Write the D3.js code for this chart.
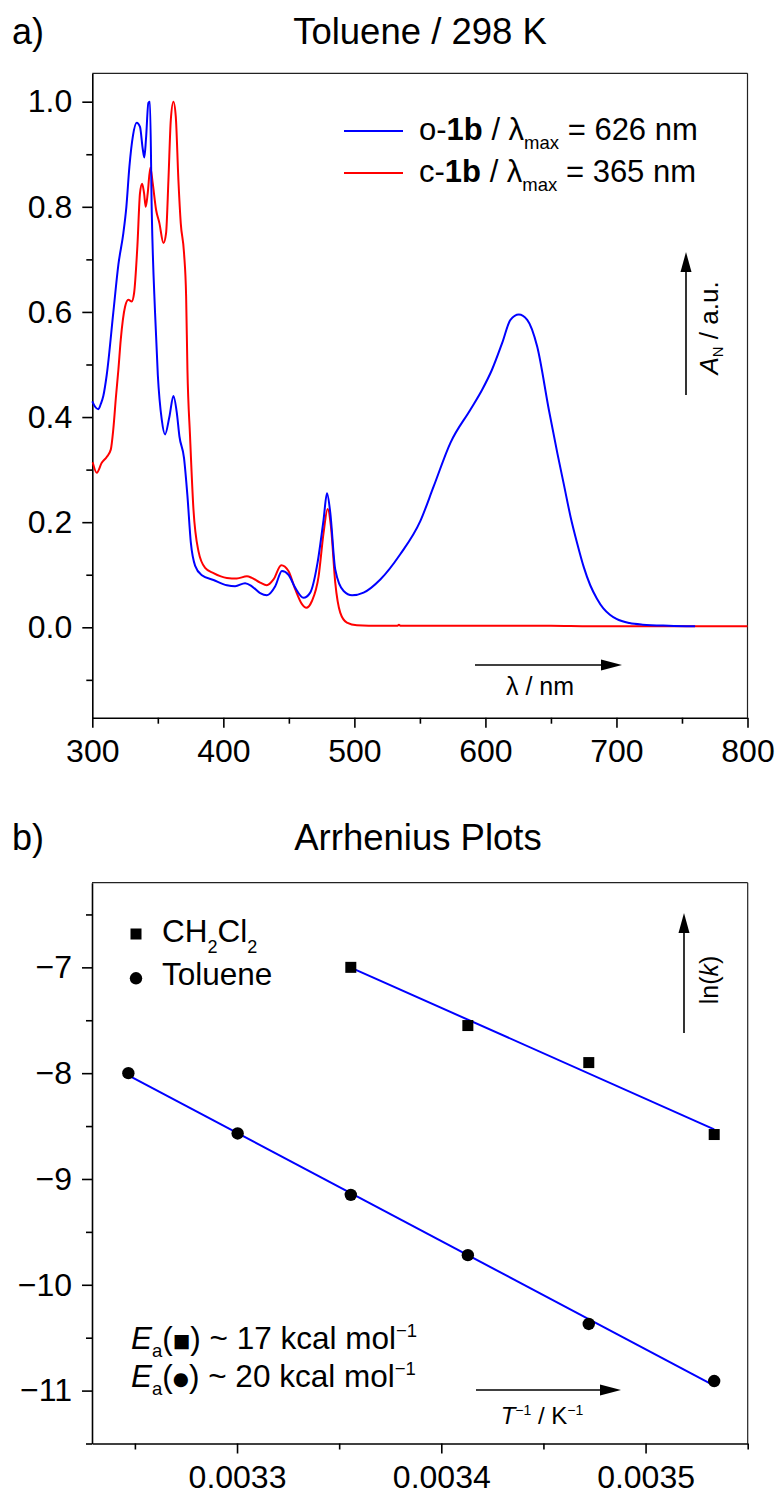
<!DOCTYPE html>
<html>
<head>
<meta charset="utf-8">
<script src="https://cdn.jsdelivr.net/npm/d3@7"></script>
<style>
  body { margin: 0; background: #fff; }
  text { font-family: "Liberation Sans", Arial, sans-serif; fill: #000; }
</style>
</head>
<body>
<script>
// a) absorption spectra, toluene, 298 K
const wavelengthO = [300, 302, 304.6, 306.5, 308.4, 311, 316, 319.9, 323.7, 326, 328.3, 331, 333.9, 336.4, 338.5, 339.7, 341, 342.8, 344, 345.4, 347.9, 350, 353, 355.5, 358.8, 361.9, 364.5, 366.5, 370, 372.6, 375.2, 378.5, 383.6, 392.5, 402.7, 409, 416.6, 421.8, 428.1, 433.2, 439.6, 444.7, 449.7, 454.9, 461.2, 466.3, 471.9, 476.5, 479.1, 481.6, 485.4, 491.8, 498.2, 507, 519.8, 535, 550.3, 560.5, 573.3, 588.5, 597.5, 605, 612.8, 619.1, 625.5, 631.9, 639.5, 648.4, 655, 660, 665, 670, 675, 680, 685, 690, 695, 700, 710, 720, 740, 760];
const absO = [0.43, 0.42, 0.415, 0.425, 0.44, 0.48, 0.598, 0.69, 0.75, 0.80, 0.876, 0.935, 0.96, 0.952, 0.91, 0.894, 0.93, 0.998, 1.0, 0.788, 0.598, 0.48, 0.395, 0.367, 0.40, 0.44, 0.408, 0.363, 0.322, 0.25, 0.161, 0.117, 0.099, 0.09, 0.08, 0.078, 0.084, 0.078, 0.065, 0.061, 0.078, 0.107, 0.10, 0.075, 0.056, 0.066, 0.123, 0.205, 0.255, 0.218, 0.11, 0.069, 0.061, 0.066, 0.091, 0.139, 0.202, 0.268, 0.351, 0.414, 0.452, 0.49, 0.541, 0.585, 0.595, 0.585, 0.534, 0.414, 0.33, 0.27, 0.21, 0.16, 0.115, 0.08, 0.055, 0.036, 0.024, 0.016, 0.008, 0.005, 0.003, 0.002];
const wavelengthC = [300.3, 303.4, 307.2, 311, 314.1, 316, 318.1, 319.9, 321.7, 325, 327.5, 330.1, 331.9, 334.4, 336.4, 338, 339.5, 340.8, 342.3, 344.3, 346.1, 348.7, 351.2, 354.3, 356.3, 358.1, 359.9, 361.9, 363.7, 365.7, 367.5, 370, 371.6, 372.6, 374.6, 377.2, 381, 386.1, 392.5, 402.7, 410.3, 418, 421.8, 428.1, 433.2, 438.3, 444.2, 449.7, 454.9, 460, 463.3, 467.6, 472.7, 476.5, 479.6, 482.1, 485.4, 489.2, 494.3, 501.9, 520, 533, 534, 535, 600, 650, 680, 700, 750, 800];
const absC = [0.314, 0.294, 0.313, 0.324, 0.338, 0.376, 0.44, 0.49, 0.547, 0.61, 0.623, 0.62, 0.636, 0.725, 0.826, 0.844, 0.826, 0.80, 0.826, 0.875, 0.845, 0.794, 0.769, 0.731, 0.75, 0.851, 0.965, 1.0, 0.972, 0.851, 0.769, 0.712, 0.63, 0.49, 0.363, 0.224, 0.145, 0.113, 0.103, 0.094, 0.093, 0.097, 0.094, 0.085, 0.08, 0.091, 0.118, 0.107, 0.072, 0.044, 0.037, 0.05, 0.097, 0.18, 0.225, 0.192, 0.085, 0.028, 0.009, 0.004, 0.003, 0.003, 0.005, 0.003, 0.003, 0.003, 0.002, 0.002, 0.002, 0.002];
const wlTicks = [300, 400, 500, 600, 700, 800];
const wlMinor = [350, 450, 550, 650, 750];
const absTicks = [0, 0.2, 0.4, 0.6, 0.8, 1.0];
const absMinor = [-0.1, 0.1, 0.3, 0.5, 0.7, 0.9];

// b) Arrhenius plots
const invTDcm = [0.0033557, 0.0034130, 0.0034722, 0.0035336];
const lnkDcm = [-7.00, -7.55, -7.90, -8.58];
const invTTol = [0.0032468, 0.0033003, 0.0033557, 0.0034130, 0.0034722, 0.0035336];
const lnkTol = [-8.00, -8.57, -9.15, -9.72, -10.37, -10.91];
const invTTicks = [0.0033, 0.0034, 0.0035];
const invTMinor = [0.00325, 0.00335, 0.00345, 0.00355];
const lnkTicks = [-7, -8, -9, -10, -11];
const lnkMinor = [-6.5, -7.5, -8.5, -9.5, -10.5, -11.5];

const svg = d3.select("body").append("svg").attr("width", 779).attr("height", 1497);

function frame(x, y, xMajor, xMinor, yMajor, yMinor, xFmt, yFmt) {
  const g = svg.append("g");
  const [x0, x1] = x.range();
  const [y0, y1] = y.range();
  g.append("line").attr("x1", x0).attr("x2", x1).attr("y1", y1).attr("y2", y1)
    .attr("stroke", "#222").attr("stroke-width", 1.2);
  g.append("line").attr("x1", x1).attr("x2", x1).attr("y1", y0).attr("y2", y1)
    .attr("stroke", "#222").attr("stroke-width", 1.2);
  const axes = [
    [d3.axisBottom(x).tickValues(xMinor).tickFormat("").tickSize(6), `translate(0,${y0})`, false],
    [d3.axisLeft(y).tickValues(yMinor).tickFormat("").tickSize(6), `translate(${x0},0)`, false],
    [d3.axisBottom(x).tickValues(xMajor).tickFormat(xFmt).tickSize(10).tickPadding(12), `translate(0,${y0})`, true],
    [d3.axisLeft(y).tickValues(yMajor).tickFormat(yFmt).tickSize(10).tickPadding(10), `translate(${x0},0)`, true]
  ];
  axes.forEach(([ax, tr, keep]) => {
    const a = g.append("g").attr("transform", tr)
      .call(ax.tickSizeOuter(0))
      .attr("font-size", 32).attr("font-family", null);
    if (!keep) a.select(".domain").remove();
    a.selectAll("path, line").attr("stroke", "#000").attr("stroke-width", 1.6);
  });
  return g;
}

function arrowUp(g, xp, yBottom, yTip) {
  g.append("line").attr("x1", xp).attr("x2", xp).attr("y1", yBottom).attr("y2", yTip + 10)
    .attr("stroke", "#000").attr("stroke-width", 1.6);
  g.append("path").attr("d", `M${xp},${yTip} L${xp - 5.5},${yTip + 20} L${xp + 5.5},${yTip + 20} Z`);
}

function arrowRight(g, xStart, xTip, yp) {
  g.append("line").attr("x1", xStart).attr("x2", xTip - 10).attr("y1", yp).attr("y2", yp)
    .attr("stroke", "#000").attr("stroke-width", 1.6);
  g.append("path").attr("d", `M${xTip},${yp} L${xTip - 21},${yp - 5.5} L${xTip - 21},${yp + 5.5} Z`);
}

// ---------- panel a ----------
const xa = d3.scaleLinear().domain([300, 800]).range([92.3, 747.5]);
const ya = d3.scaleLinear().domain([-0.172, 1.054]).range([717.7, 73.3]);

svg.append("text").attr("x", 12).attr("y", 44).attr("font-size", 36).text("a)");
svg.append("text").attr("x", 420).attr("y", 44).attr("font-size", 36.5)
  .attr("text-anchor", "middle").text("Toluene / 298 K");

const ga = frame(xa, ya, wlTicks, wlMinor, absTicks, absMinor, d3.format("d"), d3.format(".1f"));

const spectrum = d3.line().x(d => xa(d[0])).y(d => ya(d[1])).curve(d3.curveMonotoneX);
ga.append("path").datum(d3.zip(wavelengthC, absC))
  .attr("d", spectrum).attr("fill", "none").attr("stroke", "#ff0000").attr("stroke-width", 2);
ga.append("path").datum(d3.zip(wavelengthO, absO))
  .attr("d", spectrum).attr("fill", "none").attr("stroke", "#0000ff").attr("stroke-width", 2);

const legA = [["o-", "#0000ff", "626"], ["c-", "#ff0000", "365"]];
legA.forEach(([pre, col, lmax], i) => {
  const yl = 131 + i * 42;
  ga.append("line").attr("x1", 344).attr("x2", 403).attr("y1", yl).attr("y2", yl)
    .attr("stroke", col).attr("stroke-width", 2);
  const t = ga.append("text").attr("x", 419).attr("y", yl + 8.5).attr("font-size", 31);
  t.append("tspan").text(pre);
  t.append("tspan").attr("font-weight", "bold").text("1b");
  t.append("tspan").text(" / λ");
  t.append("tspan").attr("font-size", 18.5).attr("dy", 9).text("max");
  t.append("tspan").attr("dy", -9).text(` = ${lmax} nm`);
});

arrowUp(ga, 686, 395, 252);
const yla = ga.append("text").attr("font-size", 26).attr("text-anchor", "middle")
  .attr("transform", "translate(718,328) rotate(-90)");
yla.append("tspan").attr("font-style", "italic").text("A");
yla.append("tspan").attr("font-size", 15).attr("dy", 5).text("N");
yla.append("tspan").attr("dy", -5).text(" / a.u.");

arrowRight(ga, 475, 622, 665);
ga.append("text").attr("x", 540).attr("y", 695).attr("font-size", 25)
  .attr("text-anchor", "middle").text("λ / nm");

// ---------- panel b ----------
const xb = d3.scaleLinear().domain([0.003229, 0.00355]).range([92, 747.7]);
const yb = d3.scaleLinear().domain([-11.5, -6.2]).range([1443.5, 882.7]);

svg.append("text").attr("x", 12).attr("y", 850).attr("font-size", 36).text("b)");
svg.append("text").attr("x", 418).attr("y", 850).attr("font-size", 36.5)
  .attr("text-anchor", "middle").text("Arrhenius Plots");

const gb = frame(xb, yb, invTTicks, invTMinor, lnkTicks, lnkMinor, d3.format(".4f"), d3.format("d"));

function fit(xs, ys) {
  const mx = d3.mean(xs), my = d3.mean(ys);
  const b = d3.sum(xs, (v, i) => (v - mx) * (ys[i] - my)) / d3.sum(xs, v => (v - mx) ** 2);
  return v => my + b * (v - mx);
}

[[invTDcm, lnkDcm], [invTTol, lnkTol]].forEach(([xs, ys]) => {
  const f = fit(xs, ys);
  const ext = d3.extent(xs);
  gb.append("line")
    .attr("x1", xb(ext[0])).attr("y1", yb(f(ext[0])))
    .attr("x2", xb(ext[1])).attr("y2", yb(f(ext[1])))
    .attr("stroke", "#0000ff").attr("stroke-width", 2);
});

gb.selectAll("rect.dcm").data(d3.zip(invTDcm, lnkDcm)).join("rect").attr("class", "dcm")
  .attr("x", d => xb(d[0]) - 5.5).attr("y", d => yb(d[1]) - 5.5)
  .attr("width", 11).attr("height", 11).attr("fill", "#000");
gb.selectAll("circle.tol").data(d3.zip(invTTol, lnkTol)).join("circle").attr("class", "tol")
  .attr("cx", d => xb(d[0])).attr("cy", d => yb(d[1])).attr("r", 6.2).attr("fill", "#000");

// legend b
gb.append("rect").attr("x", 130.5).attr("y", 928.5).attr("width", 11).attr("height", 11).attr("fill", "#000");
gb.append("circle").attr("cx", 136).attr("cy", 978.3).attr("r", 6.2).attr("fill", "#000");
const lb1 = gb.append("text").attr("x", 162).attr("y", 942).attr("font-size", 31.5);
lb1.append("tspan").text("CH");
lb1.append("tspan").attr("font-size", 18).attr("dy", 11).text("2");
lb1.append("tspan").attr("dy", -11).text("Cl");
lb1.append("tspan").attr("font-size", 18).attr("dy", 11).text("2");
gb.append("text").attr("x", 162).attr("y", 985).attr("font-size", 31.5).text("Toluene");

arrowUp(gb, 684, 1033, 913);
const ylb = gb.append("text").attr("font-size", 25).attr("text-anchor", "middle")
  .attr("transform", "translate(718,980) rotate(-90)");
ylb.append("tspan").text("ln(");
ylb.append("tspan").attr("font-style", "italic").text("k");
ylb.append("tspan").text(")");

arrowRight(gb, 476, 621, 1390);
const xlb = gb.append("text").attr("x", 542).attr("y", 1424).attr("font-size", 24).attr("text-anchor", "middle");
xlb.append("tspan").attr("font-style", "italic").text("T");
xlb.append("tspan").attr("font-size", 14).attr("dy", -9).text("−1");
xlb.append("tspan").attr("dy", 9).text(" / K");
xlb.append("tspan").attr("font-size", 14).attr("dy", -9).text("−1");

const eaLines = [["■", "17", 1348.5], ["●", "20", 1386.5]];
eaLines.forEach(([sym, val, yl]) => {
  const t = gb.append("text").attr("x", 131).attr("y", yl).attr("font-size", 31.5);
  t.append("tspan").attr("font-style", "italic").text("E");
  t.append("tspan").attr("font-size", 18.5).attr("dy", 8).text("a");
  t.append("tspan").attr("dy", -8).text("(");
  t.append("tspan").attr("font-size", 18.5).attr("font-family", "DejaVu Sans").attr("dy", -2).text(sym);
  t.append("tspan").attr("dy", 2).text(`) ~ ${val} kcal mol`);
  t.append("tspan").attr("font-size", 18.5).attr("dy", -12).text("−1");
});
</script>
</body>
</html>
